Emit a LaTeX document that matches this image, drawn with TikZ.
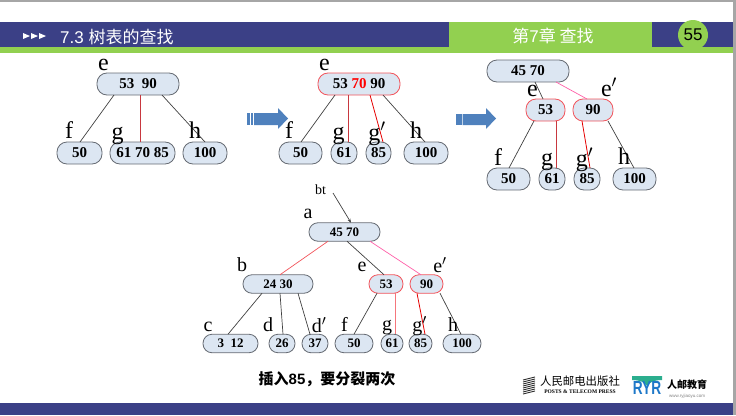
\documentclass[tikz,border=0pt]{standalone}
\usepackage{fontspec}
\setmainfont{Liberation Serif}
\setsansfont{Liberation Sans}
\newfontfamily\cjk{Noto Sans CJK SC}
\usepackage{tikz}
\usetikzlibrary{shapes.geometric, arrows.meta, positioning}
\definecolor{navyband}{HTML}{3B4086}
\definecolor{greenband}{HTML}{92D050}
\definecolor{keyfill}{HTML}{DCE6F2}
\definecolor{keyedge}{HTML}{666B73}
\definecolor{splitred}{HTML}{F2545B}
\definecolor{linkred}{HTML}{C8383F}
\definecolor{linkpink}{HTML}{FF5FA8}
\definecolor{blockblue}{HTML}{4F81BD}
\definecolor{markteal}{HTML}{2BAE8E}
\definecolor{markblue}{HTML}{1E78C8}
\tikzset{
  keybox/.style={rectangle, draw=keyedge, fill=keyfill, thick, align=center,
                 rounded corners=10pt, inner sep=0pt, outer sep=0pt, minimum height=22pt,
                 font=\fontsize{15}{15}\selectfont\bfseries},
  splitbox/.style={keybox, draw=splitred},
  smallkey/.style={keybox, rounded corners=9pt, minimum height=18.5pt,
                   font=\fontsize{13}{13}\selectfont\bfseries},
  smallsplit/.style={smallkey, draw=splitred},
  tag/.style={inner sep=0pt, font=\fontsize{24}{24}\selectfont},
  smalltag/.style={inner sep=0pt, font=\fontsize{20}{20}\selectfont},
  link/.style={draw=black!75, line width=0.7pt},
  redlink/.style={draw=linkred, line width=0.8pt},
  newlink/.style={draw=red!90!black, line width=0.8pt},
  pinklink/.style={draw=linkpink, line width=0.7pt},
  bandtext/.style={inner sep=0pt, text=white, font=\fontsize{17}{17}\selectfont\sffamily},
  blockarrow/.style={fill=blockblue, draw=none},
}
\begin{document}
\begin{tikzpicture}[x=1pt, y=-1pt]
  \useasboundingbox (0,0) rectangle (736,415);
  % frame and bands
  \fill[black!35] (0,0) rectangle (736,2);
  \fill[black!35] (733,0) rectangle (736,415);
  \fill[navyband] (0,22) rectangle (449,47);
  \fill[greenband] (449,22) rectangle (652,47);
  \fill[navyband] (652,22) rectangle (733,47);
  \fill[greenband] (0,47) rectangle (733,53);
  \fill[navyband] (0,403) rectangle (733,415);
  \foreach \tipx in {23,31,39} {
    \fill[white] (\tipx,33) -- (\tipx+7,36) -- (\tipx,39) -- cycle;
  }
  \node[bandtext, anchor=west] (title) at (60,37) {7.3 {\cjk 树表的查找}};
  \node[bandtext] (chapter) at (553,36) {{\cjk 第}7{\cjk 章 查找}};
  \node[circle, fill=greenband, minimum size=30pt, inner sep=0pt,
        font=\fontsize{17}{17}\selectfont\sffamily] (page) at (693,35) {55};

  % first tree
  \node[keybox, minimum width=82pt] (e1) at (138,84) {53\ \ 90};
  \node[keybox, minimum width=45pt] (f1) at (79.5,153) {50};
  \node[keybox, minimum width=65pt, right=8pt of f1] (g1) {61 70 85};
  \node[keybox, minimum width=44pt, right=8pt of g1] (h1) {100};
  \draw[link] (e1.south -| 114,0) -- (f1.north -| 80,0);
  \draw[redlink] (e1.south -| 140,0) -- (g1.north -| 140,0);
  \draw[link] (e1.south -| 162,0) -- (h1.north -| 205,0);
  \node[tag] (le1) at (103.5,65) {e};
  \node[tag] (lf1) at (69,130) {f};
  \node[tag] (lg1) at (117.5,136) {g};
  \node[tag] (lh1) at (195,130) {h};

  % second tree
  \node[splitbox, minimum width=82pt] (e2) at (359,84) {53 \textcolor{red}{70} 90};
  \node[keybox, minimum width=43pt] (f2) at (300.5,153) {50};
  \node[keybox, minimum width=26pt, right=9pt of f2] (g2) {61};
  \node[keybox, minimum width=25pt, right=9pt of g2] (g2b) {85};
  \node[keybox, minimum width=44pt, right=13pt of g2b] (h2) {100};
  \draw[link] (e2.south -| 335,0) -- (f2.north -| 301,0);
  \draw[redlink] (e2.south -| 348,0) -- (g2.north -| 348,0);
  \draw[newlink] (e2.south -| 370,0) -- (g2b.north -| 383,0);
  \draw[link] (e2.south -| 383,0) -- (h2.north -| 425,0);
  \node[tag] (le2) at (324.5,65) {e};
  \node[tag] (lf2) at (289,130) {f};
  \node[tag] (lg2) at (338.5,136) {g};
  \node[tag] (lg2b) at (377,134) {g$'$};
  \node[tag] (lh2) at (416,130) {h};

  % third tree
  \node[keybox, minimum width=82pt] (a3) at (528,71) {45 70};
  \node[splitbox, minimum width=39pt] (e3) at (545.5,110) {53};
  \node[splitbox, minimum width=40pt, right=8pt of e3] (p3) {90};
  \node[keybox, minimum width=43pt] (f3) at (508.5,179) {50};
  \node[keybox, minimum width=26pt, right=9pt of f3] (g3) {61};
  \node[keybox, minimum width=26pt, right=9pt of g3] (g3b) {85};
  \node[keybox, minimum width=43pt, right=13pt of g3b] (h3) {100};
  \draw[link] (a3.south -| 535,0) -- (e3.north -| 543,0);
  \draw[pinklink] (a3.south -| 556,0) -- (p3.north -| 587,0);
  \draw[link] (e3.south -| 534,0) -- (f3.north -| 509,0);
  \draw[redlink] (e3.south -| 556,0) -- (g3.north -| 556,0);
  \draw[newlink] (p3.south -| 582,0) -- (g3b.north -| 590,0);
  \draw[link] (p3.south -| 608,0) -- (h3.north -| 634,0);
  \node[tag] (le3) at (532.5,91) {e};
  \node[tag] (lp3) at (609,87) {e$'$};
  \node[tag] (lf3) at (498,157) {f};
  \node[tag] (lg3) at (547,162) {g};
  \node[tag] (lg3b) at (584.5,160) {g$'$};
  \node[tag] (lh3) at (624,156) {h};

  % block arrows between the trees
  \fill[blockarrow] (247,113) rectangle (250,125);
  \fill[blockarrow] (251,113) rectangle (253,125);
  \fill[blockarrow] (254,113) -- (278,113) -- (278,108) -- (288,118.5) -- (278,129)
    -- (278,125) -- (254,125) -- cycle;
  \fill[blockarrow] (456,114) rectangle (462,125);
  \fill[blockarrow] (462.6,114) -- (486,114) -- (486,108) -- (496,118.5) -- (486,129)
    -- (486,125) -- (462.6,125) -- cycle;

  % lower tree
  \node[inner sep=0pt, font=\fontsize{14}{14}\selectfont] (bt) at (320.5,190) {bt};
  \coordinate (btfoot) at (333,193);
  \node[smallkey, minimum width=71pt] (a4) at (344.5,232) {45 70};
  \node[smallkey, minimum width=70pt] (b4) at (278,284) {24 30};
  \node[smallsplit, minimum width=34pt] (e4) at (386,284) {53};
  \node[smallsplit, minimum width=33pt, right=7pt of e4] (p4) {90};
  \node[smallkey, minimum width=55pt] (c4) at (230.5,343.5) {3\ \ 12};
  \node[smallkey, minimum width=26pt, right=11pt of c4] (d4) {26};
  \node[smallkey, minimum width=26pt, right=7pt of d4] (d4b) {37};
  \node[smallkey, minimum width=38pt, right=7pt of d4b] (f4) {50};
  \node[smallkey, minimum width=22pt, right=8pt of f4] (g4) {61};
  \node[smallkey, minimum width=23pt, right=6pt of g4] (g4b) {85};
  \node[smallkey, minimum width=38pt, right=11pt of g4b] (h4) {100};
  \draw[link, -{Stealth[length=4pt, width=3pt]}] (btfoot) -- (a4.north -| 351,0);
  \draw[draw=splitred, line width=0.7pt] (a4.south -| 328,0) -- (b4.north -| 280,0);
  \draw[link] (a4.south -| 347,0) -- (e4.north -| 384,0);
  \draw[pinklink] (a4.south -| 370,0) -- (p4.north -| 421,0);
  \draw[link] (b4.south -| 262,0) -- (c4.north -| 228,0);
  \draw[link] (b4.south -| 280,0) -- (d4.north -| 283,0);
  \draw[link] (b4.south -| 298,0) -- (d4b.north -| 310,0);
  \draw[link] (e4.south -| 377,0) -- (f4.north -| 354,0);
  \draw[draw=splitred!80, line width=0.7pt] (e4.south -| 395,0) -- (g4.north -| 395,0);
  \draw[newlink] (p4.south -| 417,0) -- (g4b.north -| 425,0);
  \draw[link] (p4.south -| 440,0) -- (h4.north -| 461,0);
  \node[smalltag] (la4) at (308,214) {a};
  \node[smalltag] (lb4) at (242,265) {b};
  \node[smalltag] (lc4) at (208,327) {c};
  \node[smalltag] (ld4) at (268,325) {d};
  \node[smalltag] (ld4b) at (319,325) {d$'$};
  \node[smalltag] (le4) at (362,267) {e};
  \node[smalltag] (lp4) at (440,265) {e$'$};
  \node[smalltag] (lf4) at (344.5,324) {f};
  \node[smalltag] (lg4) at (387,328) {g};
  \node[smalltag] (lg4b) at (419.5,326) {g$'$};
  \node[smalltag] (lh4) at (453,325) {h};

  \node[inner sep=0pt, font=\fontsize{15}{15}\selectfont\bfseries] (caption) at (327,379)
    {{\cjk 插入}\textsf{85}{\cjk ，要分裂两次}};

  % publisher marks
  \foreach \rowy in {378,380,...,392} {
    \draw[black!80, line width=0.9pt] (523,\rowy+2) -- (535,\rowy-1);
  }
  \node[inner sep=0pt, font=\fontsize{11.4}{12}\selectfont] (press) at (580,381) {\cjk 人民邮电出版社};
  \node[inner sep=0pt, font=\fontsize{5.5}{6}\selectfont\bfseries] (pressen) at (580,392)
    {POSTS \& TELECOM PRESS};
  \fill[markteal] (632,376) -- (662,376) -- (662,380) .. controls (654,380) and (650,382) .. (647,386)
    .. controls (644,382) and (640,380) .. (632,380) -- cycle;
  \node[inner sep=0pt, text=markblue, xscale=0.72, transform shape,
        font=\fontsize{19}{19}\selectfont\sffamily\bfseries] (rymark) at (647,388) {RYR};
  \node[inner sep=0pt, font=\fontsize{10}{10}\selectfont\bfseries] (edu) at (687,384.5) {\cjk 人邮教育};
  \node[inner sep=0pt, text=black!50, font=\fontsize{4.5}{5}\selectfont\sffamily] (eduweb) at (687,396.5) {www.ryjiaoyu.com};
\end{tikzpicture}
\end{document}
